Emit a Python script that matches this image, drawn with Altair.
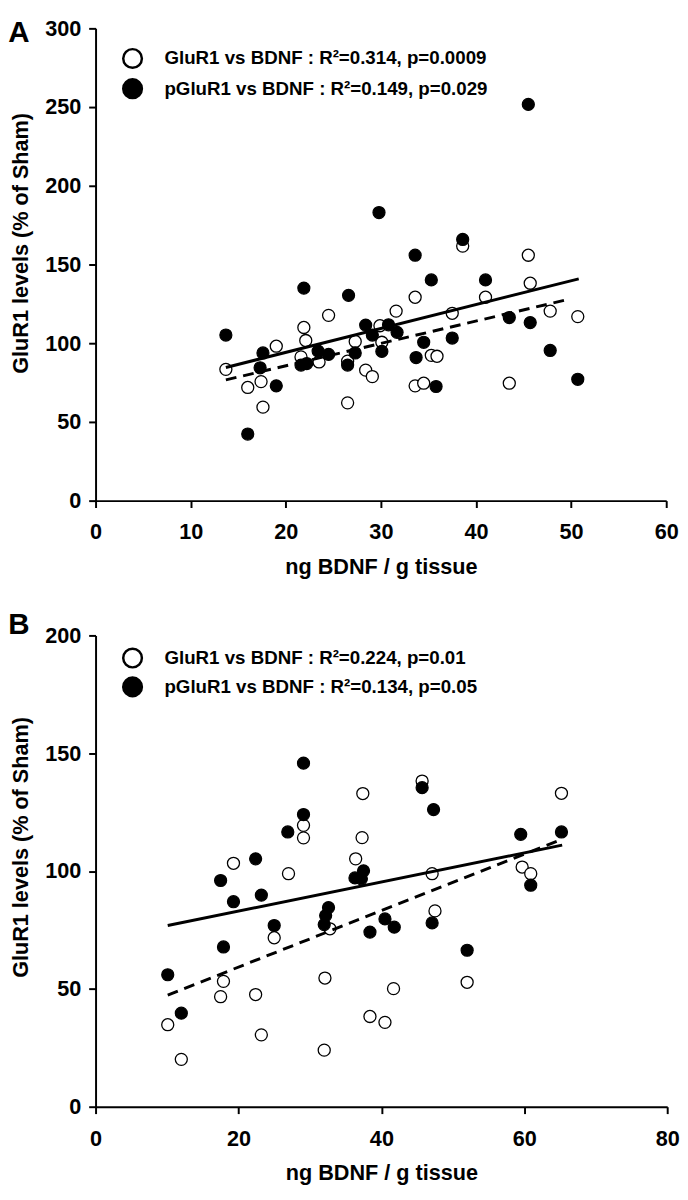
import altair as alt
import pandas as pd

FONT = "Liberation Sans"

# ---------------- Panel A ----------------
a_glur1_x = [13.7, 16.0, 17.4, 17.6, 19.0, 21.6, 21.9, 22.1, 23.5, 24.5, 26.5, 26.5,
             27.3, 28.4, 29.1, 29.9, 30.1, 31.6, 33.6, 33.6, 34.5, 35.3, 35.9, 37.5,
             38.6, 41.0, 43.5, 45.5, 45.7, 47.8, 50.7]
a_glur1_y = [83.4, 71.9, 75.6, 59.4, 98.1, 91.3, 110.0, 101.7, 88.1, 117.7, 88.6, 62.1,
             101.1, 82.9, 78.8, 111.1, 100.6, 120.4, 129.2, 72.9, 74.6, 92.3, 91.7, 119.0,
             161.7, 129.2, 74.6, 155.9, 138.1, 120.4, 116.9]
a_pglur1_x = [13.7, 16.0, 17.3, 17.6, 19.0, 21.6, 21.9, 22.2, 23.4, 24.5, 26.5, 26.6,
              27.3, 28.4, 29.1, 29.8, 30.1, 30.8, 31.7, 33.6, 33.7, 34.5, 35.3, 35.8,
              37.5, 38.6, 41.0, 43.5, 45.5, 45.7, 47.8, 50.7]
a_pglur1_y = [105.2, 42.3, 84.4, 93.8, 72.9, 86.1, 135.0, 87.1, 95.0, 92.9, 86.1, 130.4,
              93.8, 111.5, 105.2, 183.0, 94.8, 111.7, 106.9, 155.9, 90.9, 100.6, 140.2, 72.5,
              103.3, 165.9, 140.2, 116.3, 251.7, 113.1, 95.4, 77.1]
a_fit_solid_x = [13.7, 50.8]
a_fit_solid_y = [84.6, 140.9]
a_fit_dash_x = [13.7, 49.6]
a_fit_dash_y = [76.7, 127.7]
a_legend = ["GluR1 vs BDNF : R²=0.314, p=0.0009",
            "pGluR1 vs BDNF : R²=0.149, p=0.029"]

# ---------------- Panel B ----------------
b_glur1_x = [10.1, 12.0, 17.5, 17.9, 19.3, 22.4, 23.2, 25.0, 27.0, 29.1, 29.1, 32.1,
             32.0, 32.8, 36.4, 37.3, 37.4, 38.4, 40.5, 41.7, 45.7, 47.1, 47.5, 52.0,
             59.7, 60.9, 65.2]
b_glur1_y = [34.8, 20.1, 46.7, 53.2, 103.3, 47.6, 30.5, 71.7, 98.9, 119.4, 114.1, 54.6,
             24.0, 75.5, 105.2, 114.2, 132.9, 38.3, 35.8, 50.1, 138.2, 98.9, 83.1, 52.8,
             101.7, 98.9, 133.0]
b_pglur1_x = [10.1, 12.0, 17.5, 17.9, 19.3, 22.4, 23.2, 25.0, 26.9, 29.1, 29.1, 32.0,
              32.2, 32.6, 36.3, 37.2, 37.5, 38.4, 40.5, 41.8, 45.7, 47.1, 47.3, 52.0,
              59.5, 60.9, 65.2]
b_pglur1_y = [56.0, 39.7, 96.0, 67.8, 87.0, 105.2, 89.8, 76.9, 116.6, 124.0, 145.8, 77.3,
              81.1, 84.5, 97.1, 96.7, 100.1, 74.1, 79.7, 76.2, 135.4, 78.0, 126.1, 66.4,
              115.6, 94.0, 116.6]
b_fit_solid_x = [10.1, 65.3]
b_fit_solid_y = [76.9, 111.0]
b_fit_dash_x = [10.1, 65.3]
b_fit_dash_y = [47.4, 113.5]
b_legend = ["GluR1 vs BDNF : R²=0.224, p=0.01",
            "pGluR1 vs BDNF : R²=0.134, p=0.05"]

x_title = "ng BDNF / g tissue"
y_title = "GluR1 levels (% of Sham)"


def panel(letter, letter_y, gx, gy, px, py, sx, sy, dx, dy, legend, xmax, xstep,
          ymax, ystep, width, height, legend_rows, title_y):
    xs = alt.Scale(domain=[0, xmax], nice=False, zero=True)
    ys = alt.Scale(domain=[0, ymax], nice=False, zero=True)
    xax = alt.Axis(values=list(range(0, xmax + 1, xstep)), title=x_title,
                   labelPadding=15, titlePadding=14, labelFlush=False,
                   labelOverlap=False, format="d")
    yax = alt.Axis(values=list(range(0, ymax + 1, ystep)), title=y_title,
                   labelPadding=8, titlePadding=12, labelFlush=False,
                   labelOverlap=False, format="d", titleY=title_y)
    X = alt.X("x:Q", scale=xs, axis=xax)
    Y = alt.Y("y:Q", scale=ys, axis=yax)

    open_pts = alt.Chart(pd.DataFrame({"x": gx, "y": gy})).mark_point(
        shape="circle", filled=True, fill="white", stroke="black",
        strokeWidth=1.3, size=150, opacity=1).encode(x=X, y=Y)
    filled_pts = alt.Chart(pd.DataFrame({"x": px, "y": py})).mark_point(
        shape="circle", filled=True, fill="black", stroke="black",
        strokeWidth=1.2, size=150, opacity=1).encode(x=X, y=Y)
    solid = alt.Chart(pd.DataFrame({"x": sx, "y": sy})).mark_line(
        color="black", strokeWidth=3).encode(x=X, y=Y)
    dashed = alt.Chart(pd.DataFrame({"x": dx, "y": dy})).mark_line(
        color="black", strokeWidth=3, strokeDash=[11, 7]).encode(x=X, y=Y)

    layers = [open_pts, filled_pts, solid, dashed]
    for (ry, fillc), label in zip(legend_rows, legend):
        d = alt.Data(values=[{"t": label}])
        layers.append(alt.Chart(d).mark_point(
            shape="circle", filled=True, fill=fillc, stroke="black",
            strokeWidth=2.5, size=360, opacity=1).encode(
            x=alt.value(37.6), y=alt.value(ry)))
        layers.append(alt.Chart(d).mark_text(
            align="left", baseline="middle", font=FONT, fontWeight="bold",
            fontSize=19, color="black").encode(
            x=alt.value(70), y=alt.value(ry), text="t:N"))
    layers.append(alt.Chart(alt.Data(values=[{"t": letter}])).mark_text(
        align="left", baseline="top", font=FONT, fontWeight="bold",
        fontSize=30, color="black").encode(
        x=alt.value(-88.7), y=alt.value(letter_y), text="t:N"))
    return alt.layer(*layers).properties(width=width, height=height)


chart_a = panel("A", -10, a_glur1_x, a_glur1_y, a_pglur1_x, a_pglur1_y,
                a_fit_solid_x, a_fit_solid_y, a_fit_dash_x, a_fit_dash_y,
                a_legend, 60, 10, 300, 50, 580, 480,
                [(30.6, "white"), (61.3, "black")], 218)
chart_b = panel("B", -25, b_glur1_x, b_glur1_y, b_pglur1_x, b_pglur1_y,
                b_fit_solid_x, b_fit_solid_y, b_fit_dash_x, b_fit_dash_y,
                b_legend, 80, 20, 200, 50, 581, 479,
                [(23.0, "white"), (52.3, "black")], 215)

chart = alt.vconcat(chart_a, chart_b, spacing=34).properties(
    padding=0, background="white"
).configure_view(stroke=None).configure_axis(
    grid=False, domainColor="black", domainWidth=2, tickColor="black",
    tickWidth=2, tickSize=7, labelFont=FONT, labelFontSize=22,
    labelFontWeight="bold", labelColor="black", titleFont=FONT,
    titleFontSize=22, titleFontWeight="bold", titleColor="black"
)

chart.save("out.html", embed_options={"renderer": "svg", "actions": False})
